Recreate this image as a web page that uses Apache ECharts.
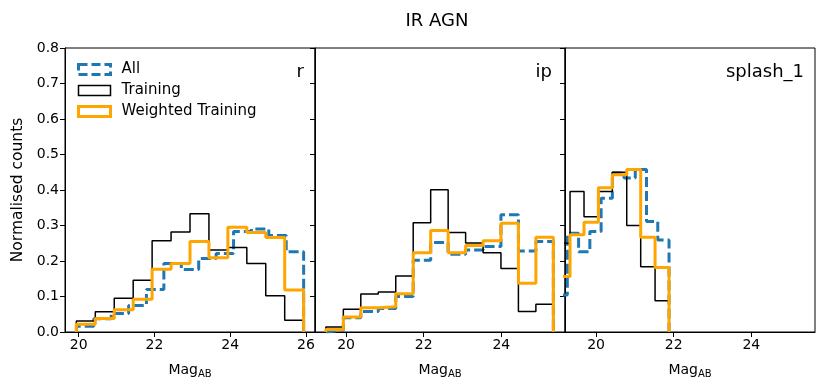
<!DOCTYPE html>
<html>
<head>
<meta charset="utf-8">
<script src="https://cdn.jsdelivr.net/npm/echarts@6/dist/echarts.min.js"></script>
<style>
  html, body { margin: 0; padding: 0; background: #fff; }
  #chart { width: 830px; height: 390px; }
</style>
</head>
<body>
<div id="chart"></div>
<script>
// ---------- Data ----------
var panelNames = ['r', 'ip', 'splash_1'];
var seriesNames = ['All', 'Training', 'Weighted Training'];
var yTicks = [0, 0.1, 0.2, 0.3, 0.4, 0.5, 0.6, 0.7, 0.8];
var xTicksR = [20, 22, 24, 26];
var xTicksOther = [20, 22, 24];

// Panel r
var rEdgesTrain = [19.94, 20.44, 20.94, 21.44, 21.94, 22.44, 22.94, 23.44, 23.94, 24.44, 24.94, 25.44, 25.94];
var rEdgesAll = [19.94, 20.40, 20.86, 21.32, 21.79, 22.25, 22.71, 23.17, 23.63, 24.09, 24.56, 25.02, 25.48, 25.94];
var rAll = [0.016, 0.037, 0.052, 0.075, 0.120, 0.193, 0.176, 0.207, 0.221, 0.283, 0.290, 0.272, 0.226];
var rTraining = [0.031, 0.057, 0.095, 0.146, 0.257, 0.282, 0.333, 0.231, 0.238, 0.193, 0.102, 0.033];
var rWeighted = [0.022, 0.038, 0.063, 0.092, 0.177, 0.193, 0.255, 0.209, 0.295, 0.280, 0.266, 0.118];

// Panel ip
var ipEdges = [19.48, 19.93, 20.38, 20.83, 21.28, 21.73, 22.18, 22.63, 23.08, 23.53, 23.99, 24.44, 24.89, 25.34];
var ipAll = [0.005, 0.040, 0.058, 0.066, 0.100, 0.202, 0.252, 0.219, 0.231, 0.241, 0.330, 0.228, 0.255];
var ipTraining = [0.014, 0.064, 0.107, 0.113, 0.158, 0.308, 0.401, 0.280, 0.251, 0.223, 0.179, 0.058, 0.078];
var ipWeighted = [0.007, 0.042, 0.068, 0.071, 0.108, 0.223, 0.286, 0.223, 0.244, 0.257, 0.306, 0.137, 0.267];

// Panel splash_1
var sEdgesTrain = [18.96, 19.33, 19.69, 20.06, 20.42, 20.79, 21.15, 21.52, 21.88];
var sEdgesAll = [18.96, 19.26, 19.55, 19.84, 20.13, 20.42, 20.72, 21.01, 21.30, 21.59, 21.88];
var sAll = [0.104, 0.278, 0.226, 0.283, 0.377, 0.448, 0.434, 0.458, 0.311, 0.259];
var sTraining = [0.250, 0.396, 0.325, 0.396, 0.450, 0.300, 0.184, 0.088];
var sWeighted = [0.156, 0.274, 0.309, 0.406, 0.443, 0.458, 0.267, 0.182];

// ---------- Helpers ----------
function stepPoints(edges, values) {
  var pts = [[edges[0], 0]];
  for (var i = 0; i < values.length; i++) {
    pts.push([edges[i], values[i]]);
    pts.push([edges[i + 1], values[i]]);
  }
  pts.push([edges[edges.length - 1], 0]);
  return pts;
}

var FONT = 'DejaVu Sans';
var C_ALL = '#1f77b4', C_TR = '#000000', C_W = '#ffa500';

var grids = [
  { left: 65, top: 48, width: 250, height: 284 },
  { left: 315, top: 48, width: 250, height: 284 },
  { left: 565, top: 48, width: 250, height: 284 }
].map(function (g) {
  return Object.assign({ show: true, borderColor: '#000', borderWidth: 1, backgroundColor: 'transparent', containLabel: false }, g);
});

var xRanges = [[19.64, 26.24], [19.2, 25.64], [19.2, 25.64]];

var xAxes = [0, 1, 2].map(function (i) {
  var ticks = i === 0 ? xTicksR : xTicksOther;
  return {
    type: 'value', gridIndex: i, min: xRanges[i][0], max: xRanges[i][1],
    axisLine: { show: true, onZero: false, lineStyle: { color: '#000', width: 1 } },
    axisTick: { show: true, length: 5, inside: false, customValues: ticks, lineStyle: { color: '#000' } },
    axisLabel: { show: true, customValues: ticks, color: '#000', fontSize: 14, fontFamily: FONT, margin: 6,
      formatter: function (v) { return String(v); } },
    splitLine: { show: false },
    name: '{m|Mag}{s|AB}', nameLocation: 'middle', nameGap: 29,
    nameTextStyle: {
      rich: {
        m: { fontSize: 14, fontFamily: FONT, color: '#000' },
        s: { fontSize: 10, fontFamily: FONT, color: '#000', padding: [8, 0, 0, 0] }
      }
    }
  };
});

var yAxes = [0, 1, 2].map(function (i) {
  return {
    type: 'value', gridIndex: i, min: 0, max: 0.8, interval: 0.1,
    axisLine: { show: true, lineStyle: { color: '#000', width: 1 } },
    axisTick: { show: true, length: 5, inside: false, lineStyle: { color: '#000' } },
    axisLabel: { show: i === 0, color: '#000', fontSize: 14, fontFamily: FONT, margin: 6,
      formatter: function (v) { return v.toFixed(1); } },
    splitLine: { show: false },
    name: i === 0 ? 'Normalised counts' : '',
    nameLocation: 'middle', nameGap: 39,
    nameTextStyle: { fontSize: 15.5, fontFamily: FONT, color: '#000' }
  };
});

var panelData = [
  { all: stepPoints(rEdgesAll, rAll), tr: stepPoints(rEdgesTrain, rTraining), w: stepPoints(rEdgesTrain, rWeighted) },
  { all: stepPoints(ipEdges, ipAll), tr: stepPoints(ipEdges, ipTraining), w: stepPoints(ipEdges, ipWeighted) },
  { all: stepPoints(sEdgesAll, sAll), tr: stepPoints(sEdgesTrain, sTraining), w: stepPoints(sEdgesTrain, sWeighted) }
];

var series = [];
panelData.forEach(function (p, i) {
  series.push({ name: seriesNames[0], type: 'line', xAxisIndex: i, yAxisIndex: i, data: p.all, symbol: 'none', clip: true,
    lineStyle: { color: C_ALL, width: 3, type: [10, 4] }, itemStyle: { color: C_ALL }, z: 2 });
  series.push({ name: seriesNames[1], type: 'line', xAxisIndex: i, yAxisIndex: i, data: p.tr, symbol: 'none', clip: true,
    lineStyle: { color: C_TR, width: 1.5 }, itemStyle: { color: C_TR }, z: 3 });
  series.push({ name: seriesNames[2], type: 'line', xAxisIndex: i, yAxisIndex: i, data: p.w, symbol: 'none', clip: true,
    lineStyle: { color: C_W, width: 3 }, itemStyle: { color: C_W }, z: 4 });
});

var labelStyle = { fontSize: 18, fontWeight: 'normal', fontFamily: FONT, color: '#000' };
var titles = [
  { text: 'IR AGN', left: 437, top: 12, textAlign: 'center', padding: 0,
    textStyle: { fontSize: 18, fontWeight: 'normal', fontFamily: FONT, color: '#000' } },
  { text: panelNames[0], right: 526, top: 63, textStyle: labelStyle, padding: 0 },
  { text: panelNames[1], right: 278, top: 63, textStyle: labelStyle, padding: 0 },
  { text: panelNames[2], right: 26, top: 63, textStyle: labelStyle, padding: 0 }
];

var option = {
  animation: false,
  backgroundColor: '#fff',
  title: titles,
  legend: {
    left: 77, top: 61, orient: 'vertical', itemGap: 4, itemWidth: 32, itemHeight: 10,
    padding: 0, selectedMode: false,
    textStyle: { fontSize: 15, fontFamily: FONT, color: '#000', padding: [0, 0, 0, 6], lineHeight: 17 },
    data: [
      { name: seriesNames[0], icon: 'rect', itemStyle: { color: 'rgba(0,0,0,0)', borderColor: C_ALL, borderWidth: 3, borderType: [9, 4] } },
      { name: seriesNames[1], icon: 'rect', itemStyle: { color: 'rgba(0,0,0,0)', borderColor: C_TR, borderWidth: 1.5 } },
      { name: seriesNames[2], icon: 'rect', itemStyle: { color: 'rgba(0,0,0,0)', borderColor: C_W, borderWidth: 3 } }
    ]
  },
  grid: grids,
  xAxis: xAxes,
  yAxis: yAxes,
  series: series
};

var chart = echarts.init(document.getElementById('chart'), null, { renderer: 'canvas' });
chart.setOption(option);
</script>
</body>
</html>
